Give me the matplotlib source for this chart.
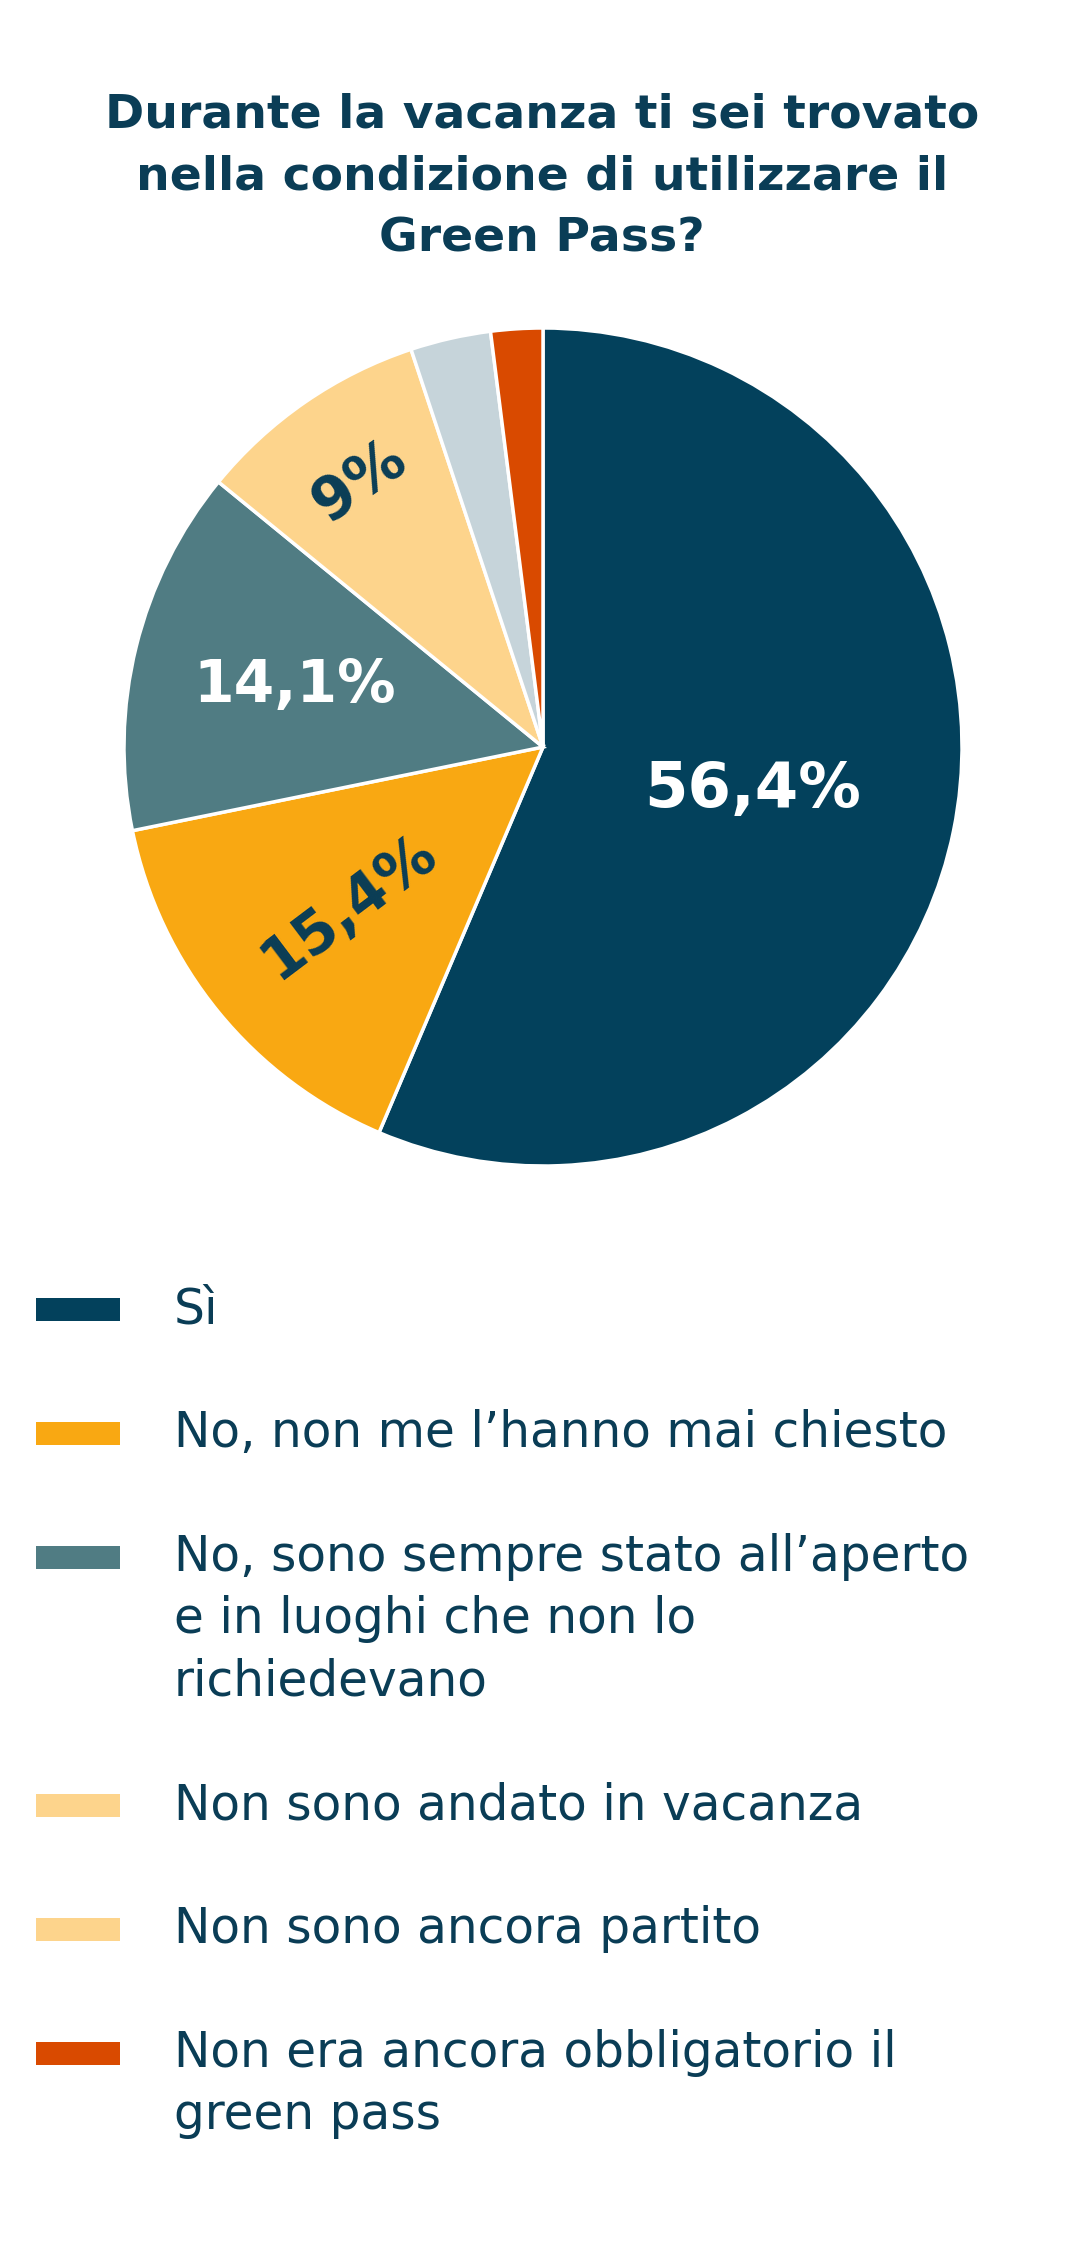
import matplotlib
matplotlib.use("Agg")
from matplotlib import pyplot as plt
from matplotlib.patches import Rectangle
import numpy as np

# dati
categorie = ["Sì",
             "No, non me l’hanno mai chiesto",
             "No, sono sempre stato all’aperto\ne in luoghi che non lo\nrichiedevano",
             "Non sono andato in vacanza",
             "Non sono ancora partito",
             "Non era ancora obbligatorio il\ngreen pass"]
valori = [56.4, 15.4, 14.1, 9.0, 3.1, 2.0]
etichette = ["56,4%", "15,4%", "14,1%", "9%", "", ""]
colori = ["#03415c", "#f9a812", "#507c83", "#fdd48c", "#c6d4da", "#d94a00"]
colori_legenda = ["#03415c", "#f9a812", "#507c83", "#fdd48c", "#fdd48c", "#d94a00"]

titolo = ["Durante la vacanza ti sei trovato",
          "nella condizione di utilizzare il",
          "Green Pass?"]

# formato
W, H = 1080, 2242
testo = "#0a3d56"
plt.rcParams["font.family"] = ["DejaVu Sans"]
fig = plt.figure(figsize=(W / 100, H / 100), dpi=100)
fig.patch.set_facecolor("white")

def fx(x):
    return x / W

def fy(y):
    return 1 - y / H

# titolo
for k, riga in enumerate(titolo):
    fig.text(fx(542), fy(128 + k * 62), riga, ha="center", va="baseline",
             fontsize=34, fontweight="bold", color=testo)

# torta
cx, cy, r = 543, 747, 419
ax = fig.add_axes([fx(cx - r), fy(cy + r), 2 * r / W, 2 * r / H])
wedges, _ = ax.pie(valori, colors=colori, startangle=90, counterclock=False, radius=1,
                   wedgeprops=dict(edgecolor="white", linewidth=2.5))
ax.set_xlim(-1, 1)
ax.set_ylim(-1, 1)
ax.set_aspect("equal")
ax.axis("off")

distanze = [0.51, 0.60, 0.61, 0.77]
colori_et = ["white", testo, "white", testo]
dimensioni = [45, 42, 42, 42]
rotazioni = [0, 37, 0, 35]
for i in range(4):
    w = wedges[i]
    ang = np.deg2rad((w.theta1 + w.theta2) / 2)
    ax.text(distanze[i] * np.cos(ang), distanze[i] * np.sin(ang), etichette[i],
            ha="center", va="center", rotation=rotazioni[i], rotation_mode="anchor",
            fontsize=dimensioni[i], fontweight="bold", color=colori_et[i])

# legenda
base = 1323
passo_riga = 62
passo_voce = 124
for i in range(len(categorie)):
    righe = categorie[i].split("\n")
    fig.patches.append(Rectangle((fx(36), fy(base - 2)), 84 / W, 23 / H,
                                 transform=fig.transFigure, facecolor=colori_legenda[i],
                                 edgecolor="none"))
    for k, riga in enumerate(righe):
        fig.text(fx(174), fy(base + k * passo_riga), riga, ha="left", va="baseline",
                 fontsize=35, color=testo)
    base += passo_voce + (len(righe) - 1) * passo_riga

fig.savefig("out.png", dpi=100, facecolor="white")
